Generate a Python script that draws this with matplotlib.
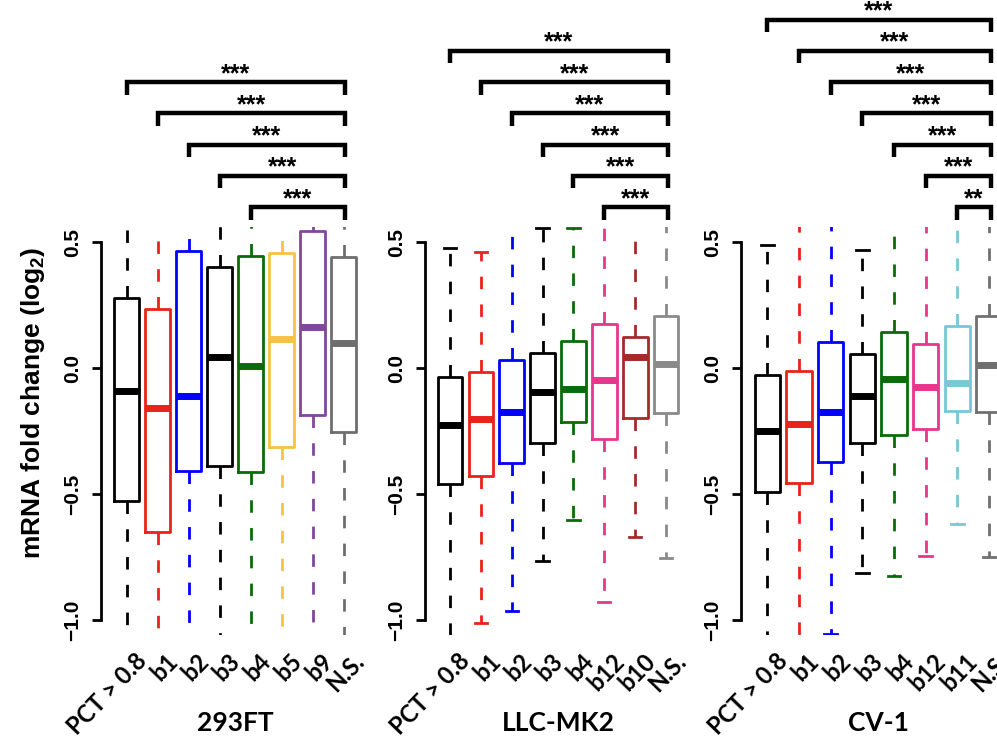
import numpy as np
import matplotlib.pyplot as plt
from matplotlib import transforms

plt.rcParams['mathtext.fontset'] = 'custom'
plt.rcParams['mathtext.rm'] = 'Liberation Sans:bold'
plt.rcParams['mathtext.bf'] = 'Liberation Sans:bold'

# boxplot stats, mRNA fold change (log2)
# whiskers that leave the plot region are only rough guesses
titles = ["293FT", "LLC-MK2", "CV-1"]

labels_293 = ["PCT > 0.8", "b1", "b2", "b3", "b4", "b5", "b9", "N.S."]
lo_293 = [-1.30, -1.50, -1.20, -1.20, -1.25, -1.10, -1.10, -1.15]
q1_293 = [-0.525, -0.648, -0.408, -0.388, -0.410, -0.311, -0.187, -0.253]
med_293 = [-0.089, -0.159, -0.109, 0.046, 0.010, 0.116, 0.163, 0.099]
q3_293 = [0.278, 0.234, 0.467, 0.400, 0.446, 0.456, 0.545, 0.443]
hi_293 = [0.90, 0.85, 1.00, 0.95, 1.00, 0.90, 1.00, 0.95]
col_293 = ["#000000", "#E8231A", "#0000FF", "#000000", "#0A6B0A", "#F5C242", "#80479C", "#6E6E6E"]
stars_293 = ["***", "***", "***", "***", "***"]

labels_llc = ["PCT > 0.8", "b1", "b2", "b3", "b4", "b12", "b10", "N.S."]
lo_llc = [-1.15, -1.012, -0.963, -0.765, -0.602, -0.926, -0.671, -0.754]
q1_llc = [-0.460, -0.427, -0.377, -0.298, -0.214, -0.281, -0.196, -0.179]
med_llc = [-0.225, -0.201, -0.175, -0.093, -0.082, -0.046, 0.044, 0.017]
q3_llc = [-0.036, -0.013, 0.033, 0.062, 0.108, 0.176, 0.125, 0.208]
hi_llc = [0.479, 0.463, 0.62, 0.556, 0.556, 0.65, 0.70, 0.70]
col_llc = ["#000000", "#E8231A", "#0000FF", "#000000", "#0A6B0A", "#E7368C", "#A52A2A", "#8A8A8A"]
stars_llc = ["***", "***", "***", "***", "***", "***"]

labels_cv = ["PCT > 0.8", "b1", "b2", "b3", "b4", "b12", "b11", "N.S."]
lo_cv = [-1.20, -1.15, -1.054, -0.814, -0.823, -0.744, -0.618, -0.748]
q1_cv = [-0.492, -0.454, -0.373, -0.298, -0.265, -0.242, -0.168, -0.175]
med_cv = [-0.248, -0.221, -0.175, -0.109, -0.042, -0.075, -0.060, 0.013]
q3_cv = [-0.027, -0.011, 0.106, 0.056, 0.145, 0.096, 0.169, 0.208]
hi_cv = [0.489, 0.70, 0.65, 0.469, 0.62, 0.70, 0.70, 0.70]
col_cv = ["#000000", "#E8231A", "#0000FF", "#000000", "#0A6B0A", "#E7368C", "#78C8D8", "#707070"]
stars_cv = ["***", "***", "***", "***", "***", "***", "**"]

panels = [
    (labels_293, lo_293, q1_293, med_293, q3_293, hi_293, col_293, stars_293),
    (labels_llc, lo_llc, q1_llc, med_llc, q3_llc, hi_llc, col_llc, stars_llc),
    (labels_cv, lo_cv, q1_cv, med_cv, q3_cv, hi_cv, col_cv, stars_cv),
]
rects = [(0.1016, 0.1414, 0.2686, 0.5516),
         (0.4260, 0.1414, 0.2674, 0.5516),
         (0.7435, 0.1414, 0.2745, 0.5516)]

fig = plt.figure(figsize=(9.97, 7.4), dpi=100)

for rect, title, (labels, lo, q1, med, q3, hi, cols, stars) in zip(rects, titles, panels):
    ax = fig.add_axes(rect)
    n = len(labels)
    pos = np.arange(1, n + 1)
    stats = [dict(whislo=a, q1=b, med=c, q3=d, whishi=e)
             for a, b, c, d, e in zip(lo, q1, med, q3, hi)]
    bp = ax.bxp(stats, positions=pos, widths=0.8, capwidths=0.4, showfliers=False,
                boxprops=dict(linewidth=2),
                medianprops=dict(linewidth=5, solid_capstyle='butt'),
                whiskerprops=dict(linewidth=2, linestyle=(0, (4.5, 5.5))),
                capprops=dict(linewidth=2))
    for i, c in enumerate(cols):
        bp['boxes'][i].set_color(c)
        bp['medians'][i].set_color(c)
        for art in bp['whiskers'][2 * i:2 * i + 2] + bp['caps'][2 * i:2 * i + 2]:
            art.set_color(c)

    ax.set_xlim(0.18, n + 0.82)
    ax.set_ylim(-1.06, 0.56)
    for s in ['top', 'right', 'bottom']:
        ax.spines[s].set_visible(False)
    ax.spines['left'].set_bounds(-1, 0.5)
    ax.spines['left'].set_linewidth(2)
    ax.set_yticks([-1, -0.5, 0, 0.5])
    ax.set_yticklabels(['\u22121.0', '\u22120.5', '0.0', '0.5'], rotation=90, va='center',
                       family='Liberation Sans', weight='bold', fontsize=15)
    ax.tick_params(axis='y', length=6.5, width=2, pad=7)
    ax.set_xticks(pos)
    ax.set_xticklabels(labels, rotation=46, ha='right', va='top', rotation_mode='anchor',
                       family='Lato', weight='bold', fontsize=17)
    ax.tick_params(axis='x', length=0, pad=10)
    shift = transforms.ScaledTranslation(0.08, 0, fig.dpi_scale_trans)
    for t in ax.get_xticklabels():
        t.set_transform(t.get_transform() + shift)

    # significance brackets, each group against N.S.
    nb = len(stars)
    for k, s in enumerate(stars):
        lev = 0.64 + 0.124 * (nb - 1 - k)
        x0, x1 = pos[k], pos[-1] + 0.05
        ax.plot([x0, x0, x1, x1], [lev - 0.05, lev, lev, lev - 0.05], color='k', lw=3.2,
                clip_on=False, solid_joinstyle='miter', solid_capstyle='butt')
        ax.text((x0 + x1) / 2, lev + 0.004, s, ha='center', va='baseline', fontsize=18,
                weight='bold', family='Liberation Sans', clip_on=False)

    cx = rect[0] + rect[2] / 2
    fig.text(cx, 0.023, title, ha='center', va='center', family='Lato', weight='bold', fontsize=19)

fig.text(33 / 997, 1 - 403 / 740, r'mRNA fold change (log$_{2}$)', rotation=90,
         ha='center', va='center', family='Liberation Sans', weight='bold', fontsize=19)

fig.savefig('out.png', dpi=100)
